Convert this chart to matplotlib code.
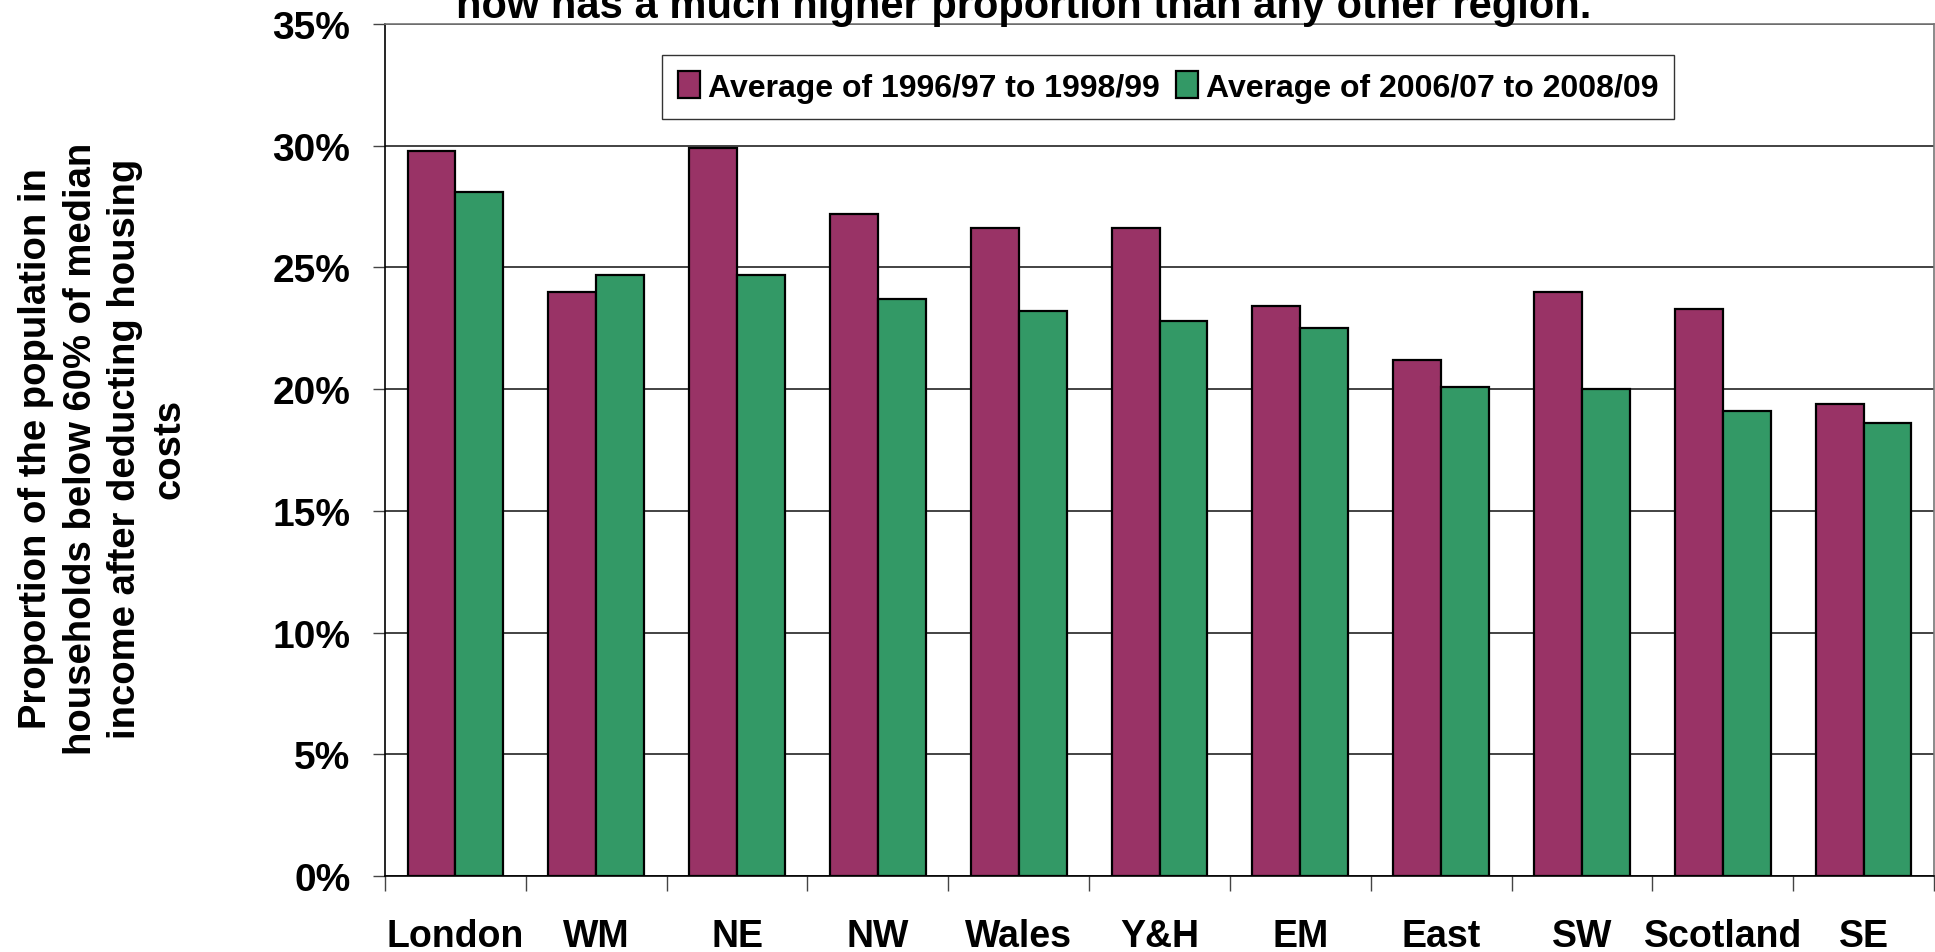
import numpy as np
import matplotlib
matplotlib.use('Agg')
import matplotlib.pyplot as plt
from matplotlib.ticker import FixedLocator, PercentFormatter

plt.rcParams['font.family'] = ['Liberation Sans', 'DejaVu Sans']
plt.rcParams['font.weight'] = 'bold'

# Data
regions = ['London', 'WM', 'NE', 'NW', 'Wales', 'Y&H', 'EM', 'East', 'SW', 'Scotland', 'SE']
avg_1996_99 = [29.8, 24.0, 29.9, 27.2, 26.6, 26.6, 23.4, 21.2, 24.0, 23.3, 19.4]
avg_2006_09 = [28.1, 24.7, 24.7, 23.7, 23.2, 22.8, 22.5, 20.1, 20.0, 19.1, 18.6]
series_names = ['Average of 1996/97 to 1998/99', 'Average of 2006/07 to 2008/09']
colors = ['#993366', '#339966']

W, H = 1935, 953
fig = plt.figure(figsize=(W / 100, H / 100), dpi=100)
ax = fig.add_axes([385 / W, 1 - 877 / H, (1934 - 385) / W, (877 - 25) / H])

x = np.arange(len(regions))
bw = 0.34
ax.bar(x - bw / 2, avg_1996_99, bw, color=colors[0], edgecolor='black', linewidth=1.6,
       label=series_names[0], zorder=3)
ax.bar(x + bw / 2, avg_2006_09, bw, color=colors[1], edgecolor='black', linewidth=1.6,
       label=series_names[1], zorder=3)

ax.set_xlim(-0.5, len(regions) - 0.5)
ax.set_ylim(0, 35)
ax.yaxis.set_major_locator(FixedLocator(np.arange(0, 36, 5)))
ax.yaxis.set_major_formatter(PercentFormatter(decimals=0))
ax.grid(axis='y', color='#222222', linewidth=1.2, zorder=0)

ax.set_xticks(x)
ax.set_xticklabels(regions)
ax.xaxis.set_minor_locator(FixedLocator(np.arange(-0.5, len(regions), 1)))
ax.tick_params(axis='x', which='major', length=0, pad=30, labelsize=27)
ax.tick_params(axis='x', which='minor', length=11, width=1, color='#444444')
ax.tick_params(axis='y', length=9, width=1, pad=16, labelsize=28, color='#444444')

for s in ['left', 'bottom']:
    ax.spines[s].set_color('black')
    ax.spines[s].set_linewidth(1.2)
for s in ['top', 'right']:
    ax.spines[s].set_color('#777777')
    ax.spines[s].set_linewidth(1.2)
ax.spines['bottom'].set_zorder(4)

fig.text(103 / W, 1 - 449 / H,
         'Proportion of the population in\nhouseholds below 60% of median\nincome after deducting housing\ncosts',
         rotation=90, ha='center', va='center', fontsize=27.5, fontweight='bold',
         linespacing=1.3)

# title is clipped at the top of the image
fig.text(1024 / W, 1 - 18 / H, 'now has a much higher proportion than any other region.',
         ha='center', va='baseline', fontsize=30, fontweight='bold')

leg = fig.legend(loc='center', bbox_to_anchor=(1168 / W, 1 - 88 / H), ncol=2,
                 fontsize=23, frameon=True, fancybox=False, edgecolor='black',
                 handlelength=0.7, handleheight=0.9, handletextpad=0.25,
                 columnspacing=0.5, borderpad=0.5, borderaxespad=0)
leg.get_frame().set_linewidth(1.0)
for t in leg.get_texts():
    t.set_fontweight('bold')

fig.savefig('out.png', dpi=100)
